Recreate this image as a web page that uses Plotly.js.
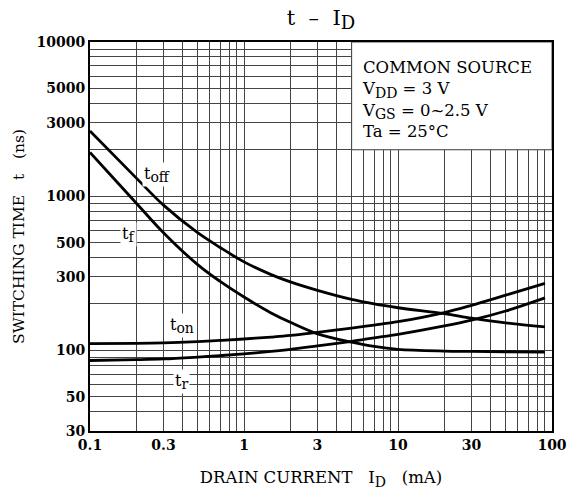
<!DOCTYPE html>
<html>
<head>
<meta charset="utf-8">
<script src="https://cdn.plot.ly/plotly-3.0.1.min.js"></script>
<style>html,body{margin:0;padding:0;background:#fff;}#chart{width:578px;height:498px;}</style>
</head>
<body>
<div id="chart"></div>
<script>
// Drain current I_D (mA)
const drainCurrent = [0.1, 0.2, 0.3, 0.5, 0.7, 1, 1.5, 2, 3, 5, 7, 10, 20, 30, 50, 90];
// Switching times (ns)
const tOff = [2650, 1310, 875, 580, 465, 375, 310, 278, 245, 214, 200, 189, 173, 162, 151, 142];
const tF   = [1920, 900, 580, 360, 280, 222, 175, 152, 128, 113, 106, 101.5, 99, 98.5, 98, 97.5];
const tOn  = [110.5, 111, 112, 114, 116, 118.5, 122, 125, 131, 139.5, 146, 153.5, 176, 196, 228, 272];
const tR   = [86, 87, 88, 90.5, 92.5, 95, 98.5, 101.5, 107, 114.5, 120.5, 127, 144, 157, 180, 219];

// Tick labels and grid positions
const xTickVals = [0.1, 0.3, 1, 3, 10, 30, 100];
const xTickText = ["0.1", "0.3", "1", "3", "10", "30", "100"];
const xMinorGrid = [0.2,0.4,0.5,0.6,0.7,0.8,0.9,2,4,5,6,7,8,9,20,40,50,60,70,80,90];
const yTickVals = [30, 50, 100, 300, 500, 1000, 3000, 5000, 10000];
const yTickText = ["30", "50", "100", "300", "500", "1000", "3000", "5000", "10000"];
const yMinorGrid = [40,60,70,80,90,200,400,600,700,800,900,2000,4000,6000,7000,8000,9000];
const xDecades = [0.1, 1, 10, 100];
const yDecades = [100, 1000, 10000];

const serif = "DejaVu Serif";
const lineStyle = {color: "#000", width: 2.8, shape: "spline", smoothing: 1};
const mk = (y) => ({x: drainCurrent, y: y, mode: "lines", line: lineStyle, hoverinfo: "skip", showlegend: false});
const traces = [mk(tOff), mk(tF), mk(tOn), mk(tR)];

const gridColor = "#444";
const sub = (s, px) => "<sub><span style=\"font-size:" + px + "px\">" + s + "</span></sub>";
const sp = "\u00a0";

const layout = {
  width: 578, height: 498,
  margin: {l: 90, r: 26, t: 42, b: 67},
  paper_bgcolor: "#fff", plot_bgcolor: "#fff",
  font: {family: serif, color: "#000"},
  showlegend: false,
  title: {text: "t" + sp + sp + "\u2013" + sp + sp + "I" + sub("D", 18), font: {family: serif, size: 21, color: "#000"},
          x: 0.5, xref: "paper", y: 0.965, yref: "container", xanchor: "center", yanchor: "middle"},
  xaxis: {
    type: "log", range: [-1, 2], tickmode: "array",
    tickvals: xTickVals, ticktext: xTickText,
    showgrid: true, gridcolor: gridColor, gridwidth: 1,
    minor: {tickmode: "array", tickvals: xMinorGrid, showgrid: true, gridcolor: gridColor, gridwidth: 1, ticks: ""},
    showline: true, mirror: true, linecolor: "#000", linewidth: 2,
    ticks: "", zeroline: false,
    tickfont: {family: serif, size: 14, weight: "bold"},
    title: {text: "DRAIN CURRENT" + sp + sp + sp + "I" + sub("D", 14) + sp + sp + sp + "(mA)", font: {family: serif, size: 16.5}, standoff: 20}
  },
  yaxis: {
    type: "log", range: [Math.log10(30), 4], tickmode: "array",
    tickvals: yTickVals, ticktext: yTickText,
    showgrid: true, gridcolor: gridColor, gridwidth: 1,
    minor: {tickmode: "array", tickvals: yMinorGrid, showgrid: true, gridcolor: gridColor, gridwidth: 1, ticks: ""},
    showline: true, mirror: true, linecolor: "#000", linewidth: 2,
    ticks: "", zeroline: false,
    tickfont: {family: serif, size: 14, weight: "bold"},
    title: {text: "SWITCHING TIME" + sp + sp + sp + "t" + sp + sp + sp + "(ns)", font: {family: serif, size: 15.5}, standoff: 8}
  },
  xaxis2: {
    type: "log", range: [-1, 2], overlaying: "x", anchor: "y", tickmode: "array",
    tickvals: xDecades, showticklabels: false, showgrid: true, gridcolor: "#000", gridwidth: 1.6,
    showline: false, ticks: "", zeroline: false
  },
  yaxis2: {
    type: "log", range: [Math.log10(30), 4], overlaying: "y", anchor: "x", tickmode: "array",
    tickvals: yDecades, showticklabels: false, showgrid: true, gridcolor: "#000", gridwidth: 1.6,
    showline: false, ticks: "", zeroline: false
  },
  shapes: [
    {type: "rect", xref: "x", yref: "y", x0: 5, x1: 100, y0: 2000, y1: 10000,
     fillcolor: "#fff", line: {color: gridColor, width: 1}, layer: "between"}
  ],
  annotations: [
    {xref: "paper", yref: "paper", x: 0.584, y: 0.965, xanchor: "left", yanchor: "top", align: "left",
     showarrow: false, font: {family: serif, size: 16.5},
     text: "COMMON SOURCE<br>V" + sub("DD", 14) + " = 3 V<br>V" + sub("GS", 14) + " = 0~2.5 V<br>Ta = 25\u00b0C"},
    {xref: "paper", yref: "paper", x: 0.113, y: 0.66, showarrow: false, bgcolor: "#fff", borderpad: 1,
     font: {family: serif, size: 16}, text: "t" + sub("off", 14)},
    {xref: "paper", yref: "paper", x: 0.066, y: 0.505, showarrow: false, bgcolor: "#fff", borderpad: 1,
     font: {family: serif, size: 16}, text: "t" + sub("f", 14)},
    {xref: "paper", yref: "paper", x: 0.168, y: 0.24, showarrow: false, bgcolor: "#fff", borderpad: 1,
     font: {family: serif, size: 16}, text: "t" + sub("on", 14)},
    {xref: "paper", yref: "paper", x: 0.180, y: 0.095, showarrow: false, bgcolor: "#fff", borderpad: 1,
     font: {family: serif, size: 16}, text: "t" + sub("r", 14)}
  ]
};

Plotly.newPlot("chart", traces, layout, {displayModeBar: false, staticPlot: true});
</script>
</body>
</html>
